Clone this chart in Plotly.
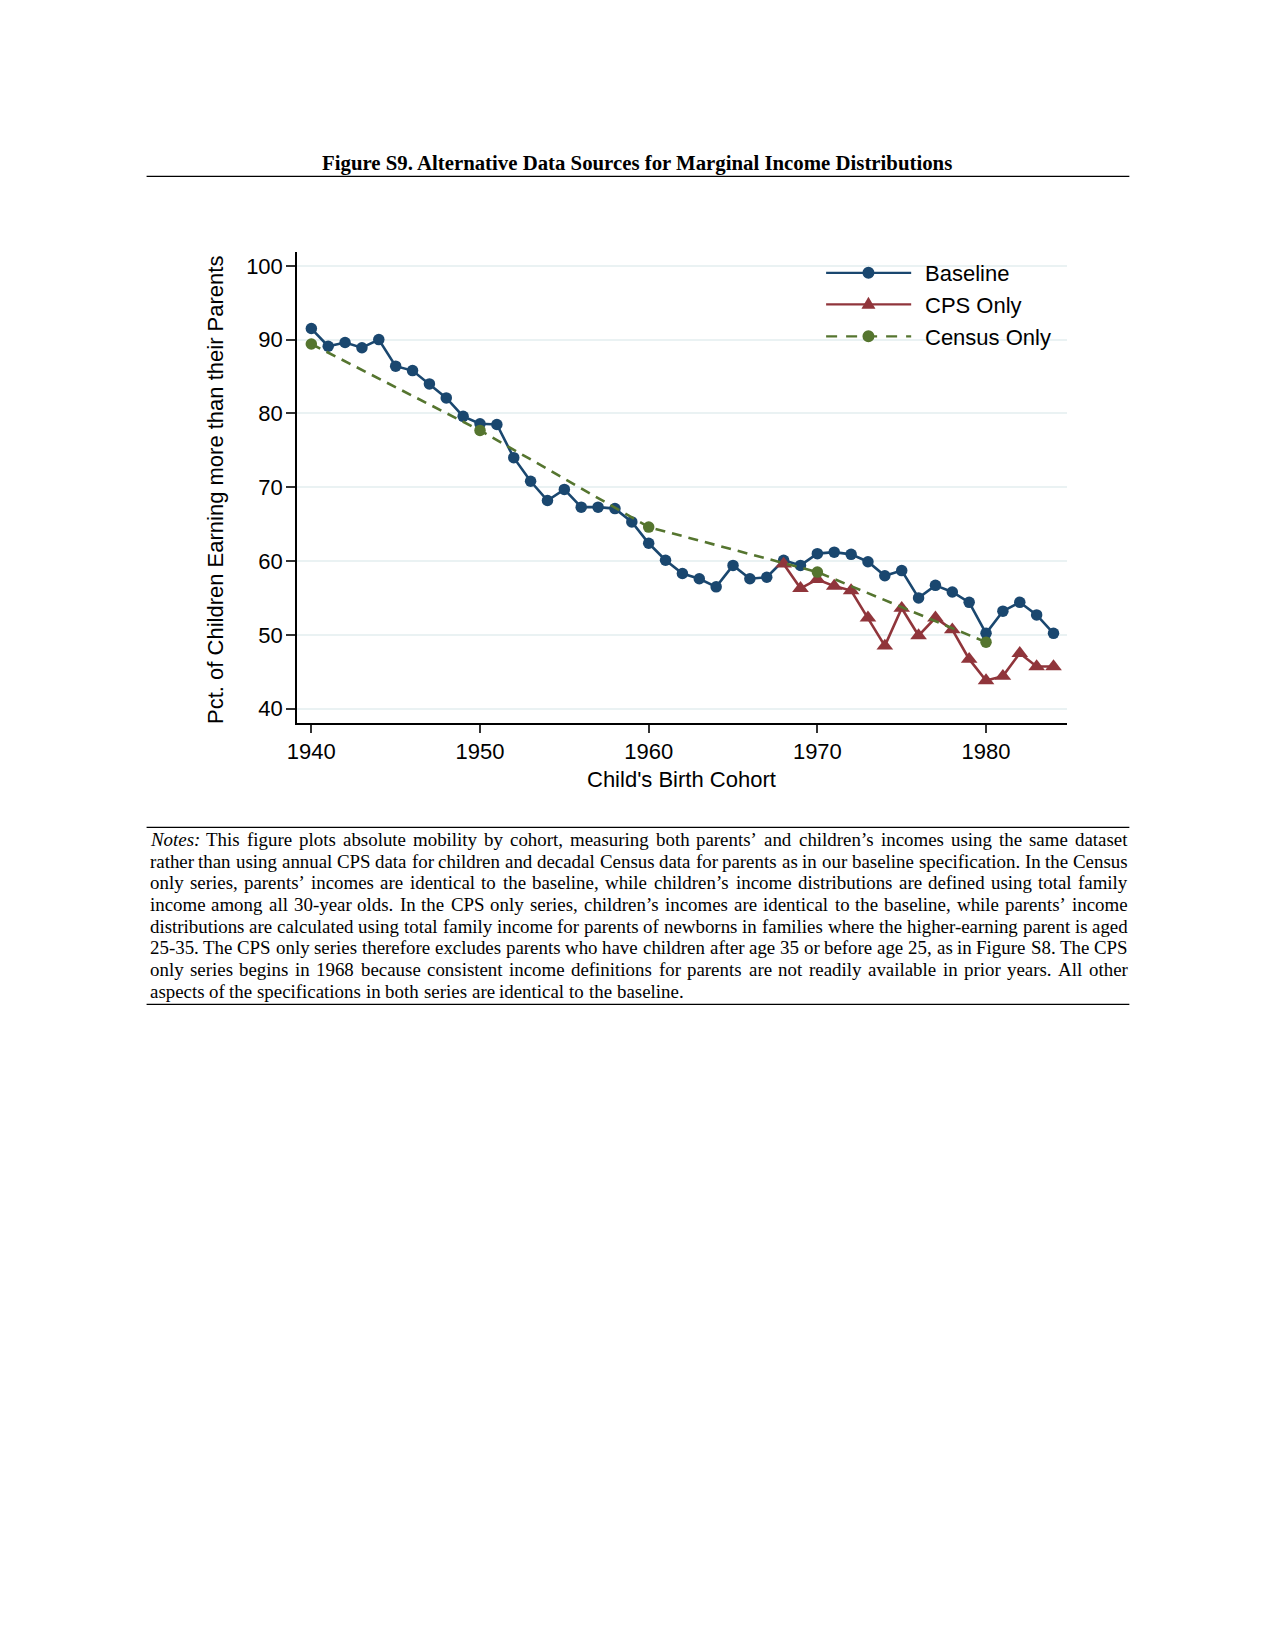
import plotly.graph_objects as go

# ---------------- data ----------------
baseline_years = list(range(1940, 1985))
baseline_values = [91.5, 89.1, 89.6, 88.9, 90.0, 86.4, 85.8, 84.0, 82.1, 79.6,
                   78.6, 78.5, 74.0, 70.8, 68.2, 69.7, 67.3, 67.3, 67.1, 65.3,
                   62.4, 60.1, 58.3, 57.6, 56.5, 59.4, 57.6, 57.8, 60.1, 59.4,
                   61.0, 61.2, 60.9, 59.9, 58.0, 58.7, 55.0, 56.7, 55.8, 54.4,
                   50.2, 53.2, 54.4, 52.7, 50.2]

cps_years = list(range(1968, 1985))
cps_values = [59.6, 56.3, 57.5, 56.6, 56.0, 52.3, 48.5, 53.6, 49.9, 52.3,
              50.7, 46.7, 43.8, 44.4, 47.5, 45.7, 45.7]

census_years = [1940, 1950, 1960, 1970, 1980]
census_values = [89.4, 77.7, 64.6, 58.5, 49.0]

y_ticks = [40, 50, 60, 70, 80, 90, 100]
x_ticks = [1940, 1950, 1960, 1970, 1980]

series_names = ["Baseline", "CPS Only", "Census Only"]
title_text = "Figure S9. Alternative Data Sources for Marginal Income Distributions"
y_title = "Pct. of Children Earning more than their Parents"
x_title = "Child's Birth Cohort"
notes_lines = [
    "<i>Notes:</i> This figure plots absolute mobility by cohort, measuring both parents\u2019 and children\u2019s incomes using the same dataset",
    "rather than using annual CPS data for children and decadal Census data for parents as in our baseline specification. In the Census",
    "only series, parents\u2019 incomes are identical to the baseline, while children\u2019s income distributions are defined using total family",
    "income among all 30-year olds. In the CPS only series, children\u2019s incomes are identical to the baseline, while parents\u2019 income",
    "distributions are calculated using total family income for parents of newborns in families where the higher-earning parent is aged",
    "25-35. The CPS only series therefore excludes parents who have children after age 35 or before age 25, as in Figure S8. The CPS",
    "only series begins in 1968 because consistent income definitions for parents are not readily available in prior years. All other",
    "aspects of the specifications in both series are identical to the baseline.",
]

# ---------------- geometry (page pixels; body margin offset removed) ----------------
OFF = 8.0
W, H = 1275 - 2 * OFF, 1650 - 2 * OFF
PL, PR, PT, PB = 297.3 - OFF, 1066.7 - OFF, 251.7 - OFF, 722.7 - OFF

NAVY = "#1a476f"
MAROON = "#90353b"
GREEN = "#55752f"
SANS = "Liberation Sans, Arial, sans-serif"
SERIF = "Liberation Serif, Times New Roman, serif"
LW = 2.6


def px_x(x):
    return (x - OFF - PL) / (PR - PL)


def px_y(y):
    return (PB - (y - OFF)) / (PB - PT)


fig = go.Figure()
fig.add_trace(go.Scatter(
    x=baseline_years, y=baseline_values, name=series_names[0], mode="lines+markers",
    line=dict(color=NAVY, width=LW), marker=dict(symbol="circle", size=11.5, color=NAVY)))
fig.add_trace(go.Scatter(
    x=cps_years, y=cps_values, name=series_names[1], mode="lines+markers",
    line=dict(color=MAROON, width=LW), marker=dict(symbol="triangle-up", size=14.5, color=MAROON)))
fig.add_trace(go.Scatter(
    x=census_years, y=census_values, name=series_names[2], mode="lines+markers",
    line=dict(color=GREEN, width=LW, dash="10px,7px"),
    marker=dict(symbol="circle", size=11.5, color=GREEN)))

# Times New Roman metrics (1/1000 em)
TIMES = {
    ' ': 250, 'a': 444, 'b': 500, 'c': 444, 'd': 500, 'e': 444, 'f': 333, 'g': 500, 'h': 500,
    'i': 278, 'j': 278, 'k': 500, 'l': 278, 'm': 778, 'n': 500, 'o': 500, 'p': 500, 'q': 500,
    'r': 333, 's': 389, 't': 278, 'u': 500, 'v': 500, 'w': 722, 'x': 500, 'y': 500, 'z': 444,
    'A': 722, 'B': 667, 'C': 667, 'D': 722, 'E': 611, 'F': 556, 'G': 722, 'H': 722, 'I': 333,
    'J': 389, 'K': 722, 'L': 611, 'M': 889, 'N': 722, 'O': 722, 'P': 556, 'Q': 722, 'R': 667,
    'S': 556, 'T': 611, 'U': 722, 'V': 722, 'W': 944, 'X': 722, 'Y': 722, 'Z': 611,
    '.': 250, ',': 250, '-': 333, ':': 278, '\u2019': 333, "'": 180, '(': 333, ')': 333,
}
for d in "0123456789":
    TIMES[d] = 500
ITALIC = {'N': 667, 'o': 500, 't': 278, 'e': 444, 's': 389, ':': 333}

NOTE_SIZE = 18.9
NOTE_L, NOTE_R = 150.0, 1127.5
NOTE_Y0, NOTE_DY = 839.0, 21.7


def word_width(w):
    if w.startswith("<i>"):
        plain = w.replace("<i>", "").replace("</i>", "")
        return sum(ITALIC.get(c, 450) for c in plain) / 1000 * NOTE_SIZE
    return sum(TIMES.get(c, 500) for c in w) / 1000 * NOTE_SIZE


annotations = []
for li, line in enumerate(notes_lines):
    words = line.split(" ")
    widths = [word_width(w) for w in words]
    if li < len(notes_lines) - 1:
        gap = (NOTE_R - NOTE_L - sum(widths)) / (len(words) - 1)
    else:
        gap = 0.25 * NOTE_SIZE
    x = NOTE_L
    y = NOTE_Y0 + li * NOTE_DY
    for w, wd in zip(words, widths):
        annotations.append(dict(
            text=w, x=px_x(x), y=px_y(y), xref="paper", yref="paper",
            xanchor="left", yanchor="middle", showarrow=False,
            borderpad=0, borderwidth=0,
            font=dict(family=SERIF, size=NOTE_SIZE, color="black")))
        x += wd + gap

# title
annotations.append(dict(
    text="<b>" + title_text + "</b>", x=px_x(637.5), y=px_y(162.5), xref="paper", yref="paper",
    xanchor="center", yanchor="middle", showarrow=False, borderpad=0, borderwidth=0,
    font=dict(family=SERIF, size=20.8, color="black")))
# axis titles
annotations.append(dict(
    text=y_title, x=px_x(216), y=px_y(490), xref="paper", yref="paper", textangle=-90,
    xanchor="center", yanchor="middle", showarrow=False, borderpad=0, borderwidth=0,
    font=dict(family=SANS, size=22, color="black")))
annotations.append(dict(
    text=x_title, x=px_x(681.5), y=px_y(779.5), xref="paper", yref="paper",
    xanchor="center", yanchor="middle", showarrow=False, borderpad=0, borderwidth=0,
    font=dict(family=SANS, size=22, color="black")))

shapes = []
for yy in (176, 827, 1004):
    shapes.append(dict(type="line", xref="paper", yref="paper",
                       x0=px_x(147), x1=px_x(1129), y0=px_y(yy), y1=px_y(yy),
                       line=dict(color="black", width=1.3)))

# ---------------- legend (drawn as layout decoration) ----------------
LEG_ROWS = [272.5, 304.0, 336.0]
LEG_X0, LEG_X1, LEG_MX, LEG_TX = 826.0, 911.0, 868.3, 925.0
leg_styles = [
    (NAVY, "solid", "circle"),
    (MAROON, "solid", "triangle"),
    (GREEN, "11px,9px", "circle"),
]
for name, ry, (col, dash, sym) in zip(series_names, LEG_ROWS, leg_styles):
    shapes.append(dict(type="line", xref="paper", yref="paper",
                       x0=px_x(LEG_X0), x1=px_x(LEG_X1), y0=px_y(ry), y1=px_y(ry),
                       line=dict(color=col, width=2.3, dash=dash)))
    if sym == "circle":
        shapes.append(dict(type="circle", xref="paper", yref="paper",
                           xsizemode="pixel", ysizemode="pixel",
                           xanchor=px_x(LEG_MX), yanchor=px_y(ry),
                           x0=-6, x1=6, y0=-6, y1=6,
                           fillcolor=col, line=dict(width=0)))
    else:
        shapes.append(dict(type="path", xref="paper", yref="paper",
                           xsizemode="pixel", ysizemode="pixel",
                           xanchor=px_x(LEG_MX), yanchor=px_y(ry),
                           path="M-7,-4.5 L7,-4.5 L0,7.5 Z",
                           fillcolor=col, line=dict(width=0)))
    annotations.append(dict(
        text=name, x=px_x(LEG_TX), y=px_y(ry + 1), xref="paper", yref="paper",
        xanchor="left", yanchor="middle", showarrow=False, borderpad=0, borderwidth=0,
        font=dict(family=SANS, size=22, color="black")))

fig.update_layout(
    width=W, height=H,
    margin=dict(l=PL, r=W - PR, t=PT, b=H - PB, pad=0),
    paper_bgcolor="white", plot_bgcolor="white",
    font=dict(family=SANS, size=22, color="black"),
    showlegend=False,
    annotations=annotations,
    shapes=shapes,
)
fig.update_xaxes(
    range=[1939.15, 1984.8], tickvals=x_ticks, ticks="outside", ticklen=8, tickwidth=1.5,
    tickcolor="#333", showline=True, linecolor="black", linewidth=2, showgrid=False,
    zeroline=False, tickfont=dict(family=SANS, size=22, color="black"))
fig.update_yaxes(
    range=[38.05, 101.87], tickvals=y_ticks, ticks="outside", ticklen=9, tickwidth=1.5,
    tickcolor="#333", showline=True, linecolor="black", linewidth=1.5, showgrid=True,
    gridcolor="#eaf2f3", gridwidth=2, zeroline=False, ticklabelstandoff=-1,
    tickfont=dict(family=SANS, size=22, color="black"))

fig.write_html("out.html")
